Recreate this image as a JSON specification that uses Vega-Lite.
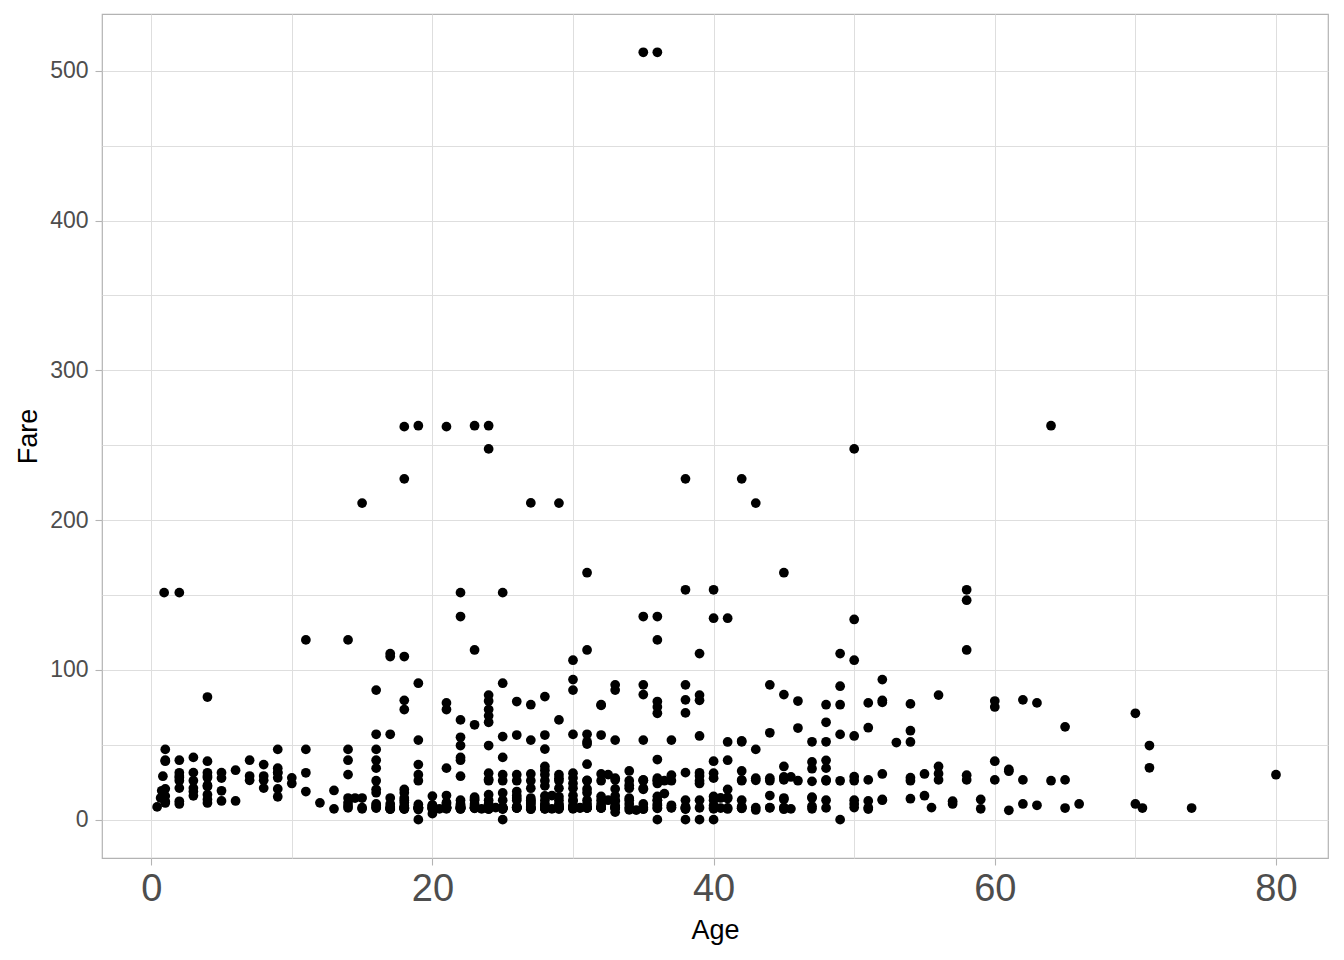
{
"$schema": "https://vega.github.io/schema/vega-lite/v6.json",
"width": 1226, "height": 844,
"autosize": {"type": "none"},
"padding": {"left": 102, "top": 14, "right": 16, "bottom": 102},
"background": "white",
"config": {
 "font": "Liberation Sans",
 "view": {"stroke": "#b3b3b3", "strokeWidth": 1.2},
 "axis": {"domain": false, "gridColor": "#dedede", "gridWidth": 1, "tickColor": "#b3b3b3", "tickWidth": 1.1, "tickSize": 7, "labelColor": "#4d4d4d", "titleColor": "#000000", "titleFontWeight": "normal", "labelFont": "Liberation Sans", "titleFont": "Liberation Sans"}
},
"data": {"values": [
{"Age":0.42,"Fare":8.52},{"Age":0.67,"Fare":14.5},{"Age":0.75,"Fare":19.26},{"Age":0.83,"Fare":29},{"Age":0.83,"Fare":18.75},{"Age":0.92,"Fare":151.55},
{"Age":1,"Fare":11.13},{"Age":1,"Fare":15.74},{"Age":1,"Fare":20.58},{"Age":1,"Fare":39},{"Age":1,"Fare":39.69},{"Age":1,"Fare":46.9},{"Age":1,"Fare":12.18},
{"Age":2,"Fare":10.46},{"Age":2,"Fare":12.29},{"Age":2,"Fare":26},{"Age":2,"Fare":27.9},{"Age":2,"Fare":29.13},{"Age":2,"Fare":31.28},{"Age":2,"Fare":39.69},{"Age":2,"Fare":151.55},{"Age":2,"Fare":21.08},
{"Age":3,"Fare":15.9},{"Age":3,"Fare":18.75},{"Age":3,"Fare":21.08},{"Age":3,"Fare":26},{"Age":3,"Fare":31.39},{"Age":3,"Fare":41.58},
{"Age":4,"Fare":11.13},{"Age":4,"Fare":13.42},{"Age":4,"Fare":16.7},{"Age":4,"Fare":22.03},{"Age":4,"Fare":23},{"Age":4,"Fare":27.9},{"Age":4,"Fare":29.13},{"Age":4,"Fare":31.28},{"Age":4,"Fare":39},{"Age":4,"Fare":81.86},
{"Age":5,"Fare":12.48},{"Age":5,"Fare":19.26},{"Age":5,"Fare":27.75},{"Age":5,"Fare":31.39},
{"Age":6,"Fare":12.48},{"Age":6,"Fare":33},
{"Age":7,"Fare":26.25},{"Age":7,"Fare":29.13},{"Age":7,"Fare":39.69},
{"Age":8,"Fare":21.08},{"Age":8,"Fare":26.25},{"Age":8,"Fare":29.13},{"Age":8,"Fare":36.75},
{"Age":9,"Fare":15.25},{"Age":9,"Fare":20.53},{"Age":9,"Fare":27.9},{"Age":9,"Fare":31.28},{"Age":9,"Fare":31.39},{"Age":9,"Fare":34.38},{"Age":9,"Fare":46.9},
{"Age":10,"Fare":24.15},{"Age":10,"Fare":27.9},
{"Age":11,"Fare":18.79},{"Age":11,"Fare":31.28},{"Age":11,"Fare":46.9},{"Age":11,"Fare":120},
{"Age":12,"Fare":11.24},
{"Age":13,"Fare":7.23},{"Age":13,"Fare":19.5},
{"Age":14,"Fare":7.85},{"Age":14,"Fare":9.23},{"Age":14,"Fare":11.24},{"Age":14,"Fare":14.45},{"Age":14,"Fare":30.07},{"Age":14,"Fare":39.69},{"Age":14,"Fare":46.9},{"Age":14,"Fare":120},
{"Age":14.5,"Fare":14.45},
{"Age":15,"Fare":7.23},{"Age":15,"Fare":8.03},{"Age":15,"Fare":14.45},{"Age":15,"Fare":211.34},
{"Age":16,"Fare":7.75},{"Age":16,"Fare":8.05},{"Age":16,"Fare":9.5},{"Age":16,"Fare":10.5},{"Age":16,"Fare":18},{"Age":16,"Fare":20.25},{"Age":16,"Fare":26},{"Age":16,"Fare":34.38},{"Age":16,"Fare":39.69},{"Age":16,"Fare":46.9},{"Age":16,"Fare":57},{"Age":16,"Fare":86.5},
{"Age":17,"Fare":7.05},{"Age":17,"Fare":7.13},{"Age":17,"Fare":7.23},{"Age":17,"Fare":7.9},{"Age":17,"Fare":8.66},{"Age":17,"Fare":10.5},{"Age":17,"Fare":14.46},{"Age":17,"Fare":57},{"Age":17,"Fare":108.9},{"Age":17,"Fare":110.88},
{"Age":18,"Fare":7.05},{"Age":18,"Fare":7.25},{"Age":18,"Fare":7.5},{"Age":18,"Fare":7.75},{"Age":18,"Fare":7.8},{"Age":18,"Fare":7.85},{"Age":18,"Fare":8.05},{"Age":18,"Fare":9.35},{"Age":18,"Fare":11.5},{"Age":18,"Fare":13},{"Age":18,"Fare":14.45},{"Age":18,"Fare":18},{"Age":18,"Fare":20.21},{"Age":18,"Fare":73.5},{"Age":18,"Fare":79.65},{"Age":18,"Fare":108.9},{"Age":18,"Fare":227.53},{"Age":18,"Fare":262.38},
{"Age":19,"Fare":0},{"Age":19,"Fare":6.75},{"Age":19,"Fare":7.65},{"Age":19,"Fare":7.78},{"Age":19,"Fare":7.88},{"Age":19,"Fare":8.05},{"Age":19,"Fare":8.16},{"Age":19,"Fare":10.17},{"Age":19,"Fare":26},{"Age":19,"Fare":30},{"Age":19,"Fare":36.75},{"Age":19,"Fare":53.1},{"Age":19,"Fare":91.08},{"Age":19,"Fare":263},
{"Age":20,"Fare":4.01},{"Age":20,"Fare":7.05},{"Age":20,"Fare":7.23},{"Age":20,"Fare":7.85},{"Age":20,"Fare":7.93},{"Age":20,"Fare":8.05},{"Age":20,"Fare":9.23},{"Age":20,"Fare":9.5},{"Age":20,"Fare":9.85},{"Age":20,"Fare":15.74},
{"Age":20.5,"Fare":7.25},
{"Age":21,"Fare":7.25},{"Age":21,"Fare":7.73},{"Age":21,"Fare":7.8},{"Age":21,"Fare":7.93},{"Age":21,"Fare":8.05},{"Age":21,"Fare":8.43},{"Age":21,"Fare":10.5},{"Age":21,"Fare":11.5},{"Age":21,"Fare":16.1},{"Age":21,"Fare":34.38},{"Age":21,"Fare":73.5},{"Age":21,"Fare":77.96},{"Age":21,"Fare":262.38},
{"Age":22,"Fare":7.13},{"Age":22,"Fare":7.23},{"Age":22,"Fare":7.52},{"Age":22,"Fare":7.75},{"Age":22,"Fare":7.8},{"Age":22,"Fare":7.9},{"Age":22,"Fare":8.05},{"Age":22,"Fare":9},{"Age":22,"Fare":9.35},{"Age":22,"Fare":10.52},{"Age":22,"Fare":13},{"Age":22,"Fare":29},{"Age":22,"Fare":39.69},{"Age":22,"Fare":41.58},{"Age":22,"Fare":49.5},{"Age":22,"Fare":55},{"Age":22,"Fare":66.6},{"Age":22,"Fare":135.63},{"Age":22,"Fare":151.55},
{"Age":23,"Fare":7.55},{"Age":23,"Fare":7.85},{"Age":23,"Fare":7.93},{"Age":23,"Fare":8.05},{"Age":23,"Fare":9.23},{"Age":23,"Fare":10.5},{"Age":23,"Fare":13},{"Age":23,"Fare":13.79},{"Age":23,"Fare":15.05},{"Age":23,"Fare":63.36},{"Age":23,"Fare":113.28},{"Age":23,"Fare":263},
{"Age":23.5,"Fare":7.23},
{"Age":24,"Fare":7.05},{"Age":24,"Fare":7.14},{"Age":24,"Fare":7.5},{"Age":24,"Fare":7.78},{"Age":24,"Fare":7.85},{"Age":24,"Fare":8.05},{"Age":24,"Fare":9.5},{"Age":24,"Fare":10.5},{"Age":24,"Fare":13},{"Age":24,"Fare":16.7},{"Age":24,"Fare":26},{"Age":24,"Fare":27},{"Age":24,"Fare":31},{"Age":24,"Fare":49.5},{"Age":24,"Fare":65},{"Age":24,"Fare":69.3},{"Age":24,"Fare":73.5},{"Age":24,"Fare":79.2},{"Age":24,"Fare":83.16},{"Age":24,"Fare":247.52},{"Age":24,"Fare":263},
{"Age":24.5,"Fare":8.05},
{"Age":25,"Fare":0},{"Age":25,"Fare":7.05},{"Age":25,"Fare":7.25},{"Age":25,"Fare":7.65},{"Age":25,"Fare":7.74},{"Age":25,"Fare":7.78},{"Age":25,"Fare":7.9},{"Age":25,"Fare":7.93},{"Age":25,"Fare":13},{"Age":25,"Fare":17.8},{"Age":25,"Fare":26},{"Age":25,"Fare":30},{"Age":25,"Fare":41.58},{"Age":25,"Fare":55.44},{"Age":25,"Fare":91.08},{"Age":25,"Fare":151.55},
{"Age":26,"Fare":7.78},{"Age":26,"Fare":7.85},{"Age":26,"Fare":7.89},{"Age":26,"Fare":7.93},{"Age":26,"Fare":8.05},{"Age":26,"Fare":8.66},{"Age":26,"Fare":13},{"Age":26,"Fare":14.45},{"Age":26,"Fare":16.1},{"Age":26,"Fare":18.79},{"Age":26,"Fare":26},{"Age":26,"Fare":30},{"Age":26,"Fare":56.5},{"Age":26,"Fare":78.85},
{"Age":27,"Fare":6.98},{"Age":27,"Fare":7.23},{"Age":27,"Fare":7.79},{"Age":27,"Fare":7.93},{"Age":27,"Fare":8.66},{"Age":27,"Fare":10.5},{"Age":27,"Fare":11.13},{"Age":27,"Fare":12.48},{"Age":27,"Fare":13},{"Age":27,"Fare":14.45},{"Age":27,"Fare":21},{"Age":27,"Fare":26},{"Age":27,"Fare":30.5},{"Age":27,"Fare":53.1},{"Age":27,"Fare":76.73},{"Age":27,"Fare":211.5},
{"Age":28,"Fare":7.23},{"Age":28,"Fare":7.25},{"Age":28,"Fare":7.75},{"Age":28,"Fare":7.9},{"Age":28,"Fare":7.93},{"Age":28,"Fare":8.05},{"Age":28,"Fare":9.5},{"Age":28,"Fare":10.5},{"Age":28,"Fare":13},{"Age":28,"Fare":15.85},{"Age":28,"Fare":22.53},{"Age":28,"Fare":26},{"Age":28,"Fare":30},{"Age":28,"Fare":33},{"Age":28,"Fare":35.5},{"Age":28,"Fare":47.1},{"Age":28,"Fare":56.5},{"Age":28,"Fare":82.17},
{"Age":28.5,"Fare":7.23},{"Age":28.5,"Fare":16.1},
{"Age":29,"Fare":7.05},{"Age":29,"Fare":7.75},{"Age":29,"Fare":7.88},{"Age":29,"Fare":7.93},{"Age":29,"Fare":8.05},{"Age":29,"Fare":9.5},{"Age":29,"Fare":10.5},{"Age":29,"Fare":13},{"Age":29,"Fare":15.25},{"Age":29,"Fare":21},{"Age":29,"Fare":26},{"Age":29,"Fare":27.72},{"Age":29,"Fare":30},{"Age":29,"Fare":66.6},{"Age":29,"Fare":211.34},
{"Age":30,"Fare":7.23},{"Age":30,"Fare":7.75},{"Age":30,"Fare":7.9},{"Age":30,"Fare":8.05},{"Age":30,"Fare":8.66},{"Age":30,"Fare":9.5},{"Age":30,"Fare":12.48},{"Age":30,"Fare":13},{"Age":30,"Fare":16.1},{"Age":30,"Fare":21},{"Age":30,"Fare":24.15},{"Age":30,"Fare":27.75},{"Age":30,"Fare":31},{"Age":30,"Fare":56.93},{"Age":30,"Fare":86.5},{"Age":30,"Fare":93.5},{"Age":30,"Fare":106.43},
{"Age":30.5,"Fare":7.75},{"Age":30.5,"Fare":8.05},
{"Age":31,"Fare":7.75},{"Age":31,"Fare":7.85},{"Age":31,"Fare":7.93},{"Age":31,"Fare":8.05},{"Age":31,"Fare":10.5},{"Age":31,"Fare":13},{"Age":31,"Fare":18},{"Age":31,"Fare":20.53},{"Age":31,"Fare":26},{"Age":31,"Fare":26.25},{"Age":31,"Fare":37},{"Age":31,"Fare":50.5},{"Age":31,"Fare":52},{"Age":31,"Fare":57},{"Age":31,"Fare":113.28},{"Age":31,"Fare":164.87},
{"Age":32,"Fare":7.75},{"Age":32,"Fare":7.85},{"Age":32,"Fare":7.93},{"Age":32,"Fare":8.05},{"Age":32,"Fare":8.36},{"Age":32,"Fare":10.5},{"Age":32,"Fare":13},{"Age":32,"Fare":15.5},{"Age":32,"Fare":26},{"Age":32,"Fare":30.5},{"Age":32,"Fare":56.5},{"Age":32,"Fare":76.29},{"Age":32,"Fare":76.73},
{"Age":32.5,"Fare":13},{"Age":32.5,"Fare":30.07},
{"Age":33,"Fare":5},{"Age":33,"Fare":7.78},{"Age":33,"Fare":7.85},{"Age":33,"Fare":7.9},{"Age":33,"Fare":8.05},{"Age":33,"Fare":9.5},{"Age":33,"Fare":12.28},{"Age":33,"Fare":13},{"Age":33,"Fare":15.85},{"Age":33,"Fare":20.53},{"Age":33,"Fare":26.55},{"Age":33,"Fare":27.72},{"Age":33,"Fare":53.1},{"Age":33,"Fare":86.5},{"Age":33,"Fare":90},
{"Age":34,"Fare":6.5},{"Age":34,"Fare":8.05},{"Age":34,"Fare":10.5},{"Age":34,"Fare":13},{"Age":34,"Fare":14.4},{"Age":34,"Fare":21},{"Age":34,"Fare":23},{"Age":34,"Fare":26},{"Age":34,"Fare":32.5},
{"Age":34.5,"Fare":6.44},
{"Age":35,"Fare":7.05},{"Age":35,"Fare":7.13},{"Age":35,"Fare":8.05},{"Age":35,"Fare":10.5},{"Age":35,"Fare":20.25},{"Age":35,"Fare":21},{"Age":35,"Fare":26},{"Age":35,"Fare":26.29},{"Age":35,"Fare":26.55},{"Age":35,"Fare":53.1},{"Age":35,"Fare":83.48},{"Age":35,"Fare":90},{"Age":35,"Fare":135.63},{"Age":35,"Fare":512.33},
{"Age":36,"Fare":0},{"Age":36,"Fare":7.5},{"Age":36,"Fare":7.9},{"Age":36,"Fare":9.5},{"Age":36,"Fare":10.5},{"Age":36,"Fare":12.88},{"Age":36,"Fare":13},{"Age":36,"Fare":15.55},{"Age":36,"Fare":24.15},{"Age":36,"Fare":26},{"Age":36,"Fare":26.39},{"Age":36,"Fare":27.75},{"Age":36,"Fare":40.13},{"Age":36,"Fare":71},{"Age":36,"Fare":75.25},{"Age":36,"Fare":78.85},{"Age":36,"Fare":120},{"Age":36,"Fare":135.63},{"Age":36,"Fare":512.33},
{"Age":36.5,"Fare":17.4},{"Age":36.5,"Fare":26},
{"Age":37,"Fare":7.93},{"Age":37,"Fare":8.05},{"Age":37,"Fare":9.59},{"Age":37,"Fare":26},{"Age":37,"Fare":29.7},{"Age":37,"Fare":53.1},
{"Age":38,"Fare":0},{"Age":38,"Fare":7.05},{"Age":38,"Fare":7.23},{"Age":38,"Fare":7.78},{"Age":38,"Fare":7.9},{"Age":38,"Fare":8.66},{"Age":38,"Fare":13},{"Age":38,"Fare":31.39},{"Age":38,"Fare":71.28},{"Age":38,"Fare":80},{"Age":38,"Fare":90},{"Age":38,"Fare":153.46},{"Age":38,"Fare":227.53},
{"Age":39,"Fare":0},{"Age":39,"Fare":7.93},{"Age":39,"Fare":13},{"Age":39,"Fare":24.15},{"Age":39,"Fare":26},{"Age":39,"Fare":29.13},{"Age":39,"Fare":31.28},{"Age":39,"Fare":55.9},{"Age":39,"Fare":79.65},{"Age":39,"Fare":83.16},{"Age":39,"Fare":110.88},
{"Age":40,"Fare":0},{"Age":40,"Fare":7.23},{"Age":40,"Fare":7.9},{"Age":40,"Fare":9.48},{"Age":40,"Fare":13},{"Age":40,"Fare":15.5},{"Age":40,"Fare":27.72},{"Age":40,"Fare":31},{"Age":40,"Fare":39},{"Age":40,"Fare":134.5},{"Age":40,"Fare":153.46},
{"Age":40.5,"Fare":7.75},{"Age":40.5,"Fare":14.5},
{"Age":41,"Fare":7.13},{"Age":41,"Fare":7.85},{"Age":41,"Fare":14.11},{"Age":41,"Fare":15.05},{"Age":41,"Fare":20.21},{"Age":41,"Fare":39.69},{"Age":41,"Fare":51.86},{"Age":41,"Fare":134.5},
{"Age":42,"Fare":7.55},{"Age":42,"Fare":7.65},{"Age":42,"Fare":8.4},{"Age":42,"Fare":8.66},{"Age":42,"Fare":13},{"Age":42,"Fare":26},{"Age":42,"Fare":26.55},{"Age":42,"Fare":32.5},{"Age":42,"Fare":52},{"Age":42,"Fare":52.55},{"Age":42,"Fare":227.53},
{"Age":43,"Fare":6.45},{"Age":43,"Fare":8.05},{"Age":43,"Fare":26.25},{"Age":43,"Fare":27.72},{"Age":43,"Fare":46.9},{"Age":43,"Fare":211.34},
{"Age":44,"Fare":7.93},{"Age":44,"Fare":8.05},{"Age":44,"Fare":16.1},{"Age":44,"Fare":26},{"Age":44,"Fare":27.72},{"Age":44,"Fare":57.98},{"Age":44,"Fare":90},
{"Age":45,"Fare":6.98},{"Age":45,"Fare":7.75},{"Age":45,"Fare":8.05},{"Age":45,"Fare":13.5},{"Age":45,"Fare":14.45},{"Age":45,"Fare":26.55},{"Age":45,"Fare":27.9},{"Age":45,"Fare":28.5},{"Age":45,"Fare":35.5},{"Age":45,"Fare":83.48},{"Age":45,"Fare":164.87},
{"Age":45.5,"Fare":7.23},{"Age":45.5,"Fare":28.5},
{"Age":46,"Fare":26},{"Age":46,"Fare":61.18},{"Age":46,"Fare":79.2},
{"Age":47,"Fare":7.25},{"Age":47,"Fare":9},{"Age":47,"Fare":14.5},{"Age":47,"Fare":15},{"Age":47,"Fare":25.59},{"Age":47,"Fare":34.02},{"Age":47,"Fare":38.5},{"Age":47,"Fare":52},
{"Age":48,"Fare":7.85},{"Age":48,"Fare":13},{"Age":48,"Fare":25.93},{"Age":48,"Fare":26.55},{"Age":48,"Fare":34.38},{"Age":48,"Fare":39.6},{"Age":48,"Fare":52},{"Age":48,"Fare":65},{"Age":48,"Fare":76.73},
{"Age":49,"Fare":0},{"Age":49,"Fare":25.93},{"Age":49,"Fare":56.93},{"Age":49,"Fare":76.73},{"Age":49,"Fare":89.1},{"Age":49,"Fare":110.88},
{"Age":50,"Fare":8.05},{"Age":50,"Fare":10.5},{"Age":50,"Fare":13},{"Age":50,"Fare":26},{"Age":50,"Fare":28.71},{"Age":50,"Fare":55.9},{"Age":50,"Fare":106.43},{"Age":50,"Fare":133.65},{"Age":50,"Fare":247.52},
{"Age":51,"Fare":7.05},{"Age":51,"Fare":8.05},{"Age":51,"Fare":12.53},{"Age":51,"Fare":26.55},{"Age":51,"Fare":61.38},{"Age":51,"Fare":77.96},
{"Age":52,"Fare":13},{"Age":52,"Fare":13.5},{"Age":52,"Fare":30.5},{"Age":52,"Fare":78.27},{"Age":52,"Fare":79.65},{"Age":52,"Fare":93.5},
{"Age":53,"Fare":51.48},
{"Age":54,"Fare":14},{"Age":54,"Fare":26},{"Age":54,"Fare":28},{"Age":54,"Fare":51.86},{"Age":54,"Fare":59.4},{"Age":54,"Fare":77.29},
{"Age":55,"Fare":16},{"Age":55,"Fare":30.5},
{"Age":55.5,"Fare":8.05},
{"Age":56,"Fare":26.55},{"Age":56,"Fare":30.7},{"Age":56,"Fare":35.5},{"Age":56,"Fare":83.16},
{"Age":57,"Fare":10.5},{"Age":57,"Fare":12.35},
{"Age":58,"Fare":26.55},{"Age":58,"Fare":29.7},{"Age":58,"Fare":113.28},{"Age":58,"Fare":146.52},{"Age":58,"Fare":153.46},
{"Age":59,"Fare":7.25},{"Age":59,"Fare":13.5},
{"Age":60,"Fare":26.55},{"Age":60,"Fare":39},{"Age":60,"Fare":75.25},{"Age":60,"Fare":79.2},
{"Age":61,"Fare":6.24},{"Age":61,"Fare":32.32},{"Age":61,"Fare":33.5},
{"Age":62,"Fare":10.5},{"Age":62,"Fare":26.55},{"Age":62,"Fare":80},
{"Age":63,"Fare":9.59},{"Age":63,"Fare":77.96},
{"Age":64,"Fare":26},{"Age":64,"Fare":263},
{"Age":65,"Fare":7.75},{"Age":65,"Fare":26.55},{"Age":65,"Fare":61.98},
{"Age":66,"Fare":10.5},
{"Age":70,"Fare":10.5},{"Age":70,"Fare":71},
{"Age":70.5,"Fare":7.75},
{"Age":71,"Fare":34.65},{"Age":71,"Fare":49.5},
{"Age":74,"Fare":7.78},
{"Age":80,"Fare":30}
]},
"mark": {"type": "circle", "size": 95, "color": "#000000", "opacity": 1},
"encoding": {
 "x": {"field": "Age", "type": "quantitative",
  "scale": {"domain": [-3.5, 83.7], "nice": false, "zero": false},
  "axis": {"title": "Age", "values": [0,10,20,30,40,50,60,70,80],
   "labelExpr": "datum.value % 20 === 0 ? datum.label : ''",
   "tickOpacity": {"condition": {"test": "datum.value % 20 === 0", "value": 1}, "value": 0},
   "labelFontSize": 38, "labelPadding": 5, "titleFontSize": 27, "titlePadding": 9}},
 "y": {"field": "Fare", "type": "quantitative",
  "scale": {"domain": [-25.6, 537.9], "nice": false, "zero": false},
  "axis": {"title": "Fare", "values": [0,50,100,150,200,250,300,350,400,450,500],
   "labelExpr": "datum.value % 100 === 0 ? datum.label : ''",
   "tickOpacity": {"condition": {"test": "datum.value % 100 === 0", "value": 1}, "value": 0},
   "labelFontSize": 23, "labelPadding": 7, "titleFontSize": 27, "titlePadding": 7}}
}
}
